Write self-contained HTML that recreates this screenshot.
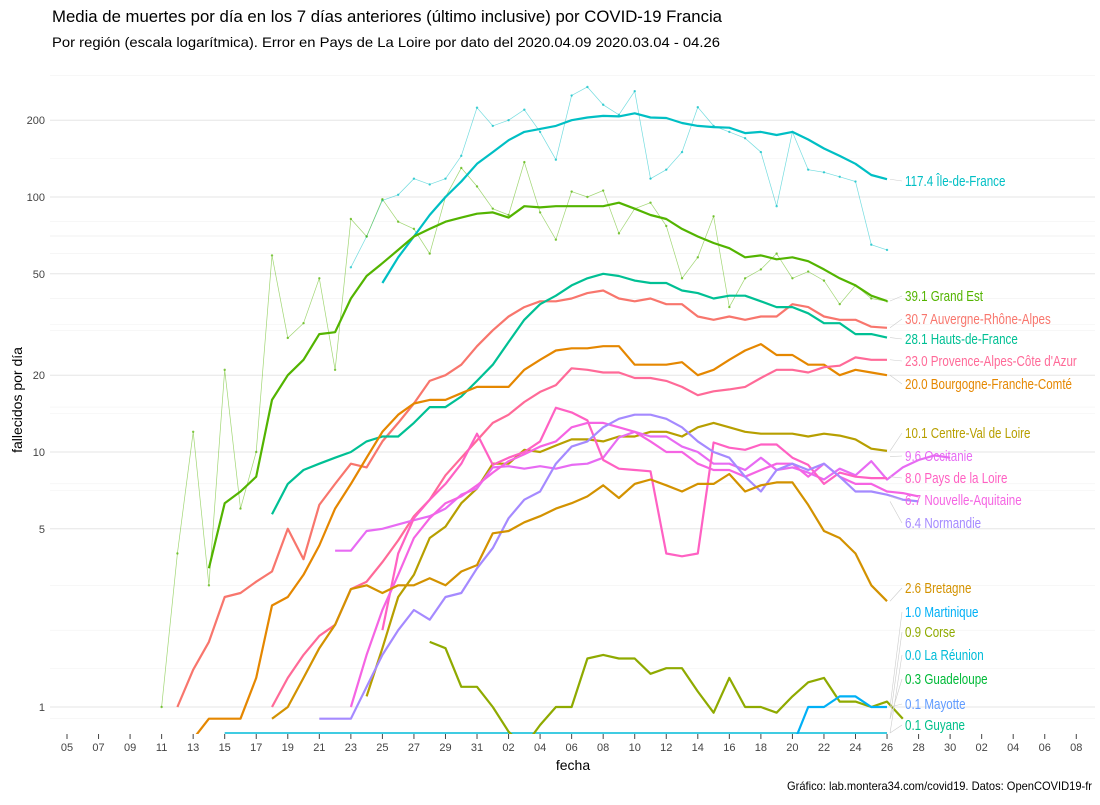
<!DOCTYPE html>
<html><head><meta charset="utf-8"><style>
body{margin:0;background:#fff;}
svg text{font-family:"Liberation Sans",sans-serif;}
</style></head><body>
<svg id="chart" width="1100" height="800" viewBox="0 0 1100 800" xmlns="http://www.w3.org/2000/svg">
<rect width="1100" height="800" fill="#fff"/>
<text x="52" y="22" font-size="17" fill="#000" textLength="670" lengthAdjust="spacingAndGlyphs">Media de muertes por día en los 7 días anteriores (último inclusive) por COVID-19 Francia</text>
<text x="52" y="47" font-size="14" fill="#000" textLength="668" lengthAdjust="spacingAndGlyphs">Por región (escala logarítmica). Error en Pays de La Loire por dato del 2020.04.09 2020.03.04 - 04.26</text>
<text x="1092" y="790" font-size="12" fill="#000" text-anchor="end" textLength="305" lengthAdjust="spacingAndGlyphs">Gráfico: lab.montera34.com/covid19. Datos: OpenCOVID19-fr</text>
<text x="0" y="0" font-size="14" fill="#000" text-anchor="middle" transform="translate(22,400) rotate(-90)">fallecidos por día</text>
<text x="573" y="770" font-size="14" fill="#000" text-anchor="middle">fecha</text>
<g id="grid"></g><g id="axes"></g>
<defs><clipPath id="clip"><rect x="50" y="60" width="1045" height="674"/></clipPath></defs>
<g id="daily" clip-path="url(#clip)"></g>
<g id="avg" clip-path="url(#clip)"></g>
<g id="labels"></g>
</svg>
<script>
const yTicks=[1,5,10,20,50,100,200];
const xTickLabels=["05","07","09","11","13","15","17","19","21","23","25","27","29","31","02","04","06","08","10","12","14","16","18","20","22","24","26","28","30","02","04","06","08"];
const idfStart=20;
const idf=[46,58,70,85,100,115,135,150,167,180,185,190,200,205,208,207,213,205,204,195,190,188,187,178,180,175,180,168,155,145,135,122,117.4];
const geStart=9;
const grandEst=[3.5,6.3,7,8,16,20,23,29,29.5,40,49,55,62,70,75,80,83,86,87,83,92,91,92,92,92,92,95,90,85,82,75,70,66,63,58,59,57,58,56,52,48,45,41,39.1];
const araStart=7;
const ara=[1,1.4,1.8,2.7,2.8,3.1,3.4,5,3.8,6.2,7.5,9,8.7,11,13,15.5,19,20,22,26,30,34,37,39,39,40,42,43,40,39,40,38,38,34,33,34,33,34,34,38,37,34,33,33,31,30.7];
const hdfStart=13;
const hdf=[5.7,7.5,8.5,9,9.5,10,11,11.5,11.5,13,15,15,16.5,19,22,27,33,38,41,45,48,50,49,47,46,46,43,42,40,41,41,39,37,37,35,32,32,29,29,28.1];
const bfcStart=8;
const bfc=[0.75,0.9,0.9,0.9,1.3,2.5,2.7,3.3,4.3,6,7.5,9.5,12,14,15.5,16,16,17,18,18,18,21,23,25,25.5,25.5,26,26,22,22,22,22.5,20,21,23,25,26.5,24,24,22,22,20,21,20.5,20];
const pacaStart=13;
const paca=[1.0,1.3,1.6,1.9,2.1,2.9,3.1,3.7,4.5,5.6,6.5,8.1,9.5,11.1,13,14,15.7,17.2,18.3,21.3,21,20.5,20.5,19.5,19.5,19,18,16.7,17.3,17.6,18,19.5,21,21,20.5,21.5,21.8,23.5,23,23];
const cvlStart=19;
const cvl=[1.1,1.7,2.7,3.3,4.6,5.1,6.3,7.2,9.0,9.0,10.2,10.0,10.6,11.2,11.2,11.0,11.5,11.5,12,12,11.5,12.5,13,12.5,12,11.8,11.8,11.8,11.5,11.8,11.6,11.2,10.3,10.1];
const occStart=17;
const occ=[4.1,4.1,4.9,5.0,5.2,5.4,5.6,6.0,6.8,7.2,8.7,8.8,8.6,8.8,8.6,8.9,9.0,9.5,11.4,12,11.5,11.5,10.5,10,9,9,8.5,9.5,8.5,8.7,8.3,7.8,8.6,8.1,9.2,7.8,8.7,9.3,9.7,9.5];
const pdlStart=20;
const pdl=[2.0,4.0,5.5,6.5,7.5,9,11.8,8.9,9.5,10,11,14.9,14.3,13.3,9.3,8.6,8.5,8.4,4.0,3.9,4.0,10.9,10.4,10.2,10.7,10.7,9.5,8.9,7.5,8.3,8.0,7.9,7.9];
const naqStart=18;
const naq=[1.0,1.6,2.4,3.3,4.6,5.5,6.3,6.7,7.4,8.3,9.2,9.8,10.5,11,12.5,13,13,12.5,12,11,10,10,9,8.5,8.5,8,8.5,9,9,8,9,8,7.5,7.5,7,6.9,6.7];
const norStart=16;
const nor=[0.9,0.9,0.9,1.2,1.6,2.0,2.4,2.2,2.7,2.8,3.5,4.2,5.5,6.5,7,9,10.5,11,12.5,13.5,14,14,13.5,12.5,11,10,9.5,8,7,8.5,9,8.5,9,8,7,7,6.8,6.5,6.4];
const breStart=13;
const bre=[0.9,1.0,1.3,1.7,2.1,2.9,3.0,2.8,3.0,3.0,3.2,3.0,3.4,3.6,4.8,4.9,5.3,5.6,6.0,6.3,6.7,7.4,6.6,7.5,7.8,7.4,7.0,7.5,7.5,8.2,7.0,7.4,7.6,7.6,6.2,4.9,4.6,4.0,3.0,2.6];
const corStart=23;
const cor=[1.8,1.7,1.2,1.2,1.0,0.8,0.7,0.85,1.0,1.0,1.55,1.6,1.55,1.55,1.35,1.42,1.42,1.15,0.95,1.3,1.0,1.0,0.95,1.1,1.25,1.3,1.05,1.05,1.0,1.05,0.9];
const marStart=46;
const mar=[0.7,1.0,1.0,1.1,1.1,1.0,1.0];
const idfDailyStart=18;
const idfDaily=[53,70,97,102,118,112,118,145,224,190,200,220,180,140,250,270,230,210,260,118,128,150,225,190,180,170,150,92,180,128,125,120,115,65,62];
const geDailyStart=6;
const geDaily=[1,4,12,3,21,6,10,59,28,32,48,21,82,70,98,80,75,60,100,130,110,90,85,137,87,68,105,100,106,72,90,95,77,48,58,84,37,48,52,60,48,51,47,38,45,40,39];
const labelTexts=["117.4 Île-de-France","39.1 Grand Est","30.7 Auvergne-Rhône-Alpes","28.1 Hauts-de-France","23.0 Provence-Alpes-Côte d'Azur","20.0 Bourgogne-Franche-Comté","10.1 Centre-Val de Loire","9.6 Occitanie","8.0 Pays de la Loire","6.7 Nouvelle-Aquitaine","6.4 Normandie","2.6 Bretagne","1.0 Martinique","0.9 Corse","0.0 La Réunion","0.3 Guadeloupe","0.1 Mayotte","0.1 Guyane"];
const labelEndValues=[117.4,39.1,30.7,28.1,23,20,10.1,9.6,8,6.7,6.4,2.6,1.0,0.9,0.78,0.9,1.0,0.78];

const labelY=[181,296,319,339,361,384,433,456,478,500,523,588,612,632,655,679,704,725];
const labelColors=["#00BFC4","#53B400","#F8766D","#00C094","#FF6A98","#E58700","#B79F00","#E76BF3","#FF61C3","#F564E3","#A58AFF","#D39200","#00B0F6","#8FAA00","#00BCD8","#00BA38","#619CFF","#00C08B"];

const NS="http://www.w3.org/2000/svg";
function xs(i){return 67+15.77*i;}
function ys(v){return 707-255*Math.log10(v);}
function mk(tag,attrs,parent){const e=document.createElementNS(NS,tag);for(const k in attrs)e.setAttribute(k,attrs[k]);parent.appendChild(e);return e;}
const grid=document.getElementById('grid'),axes=document.getElementById('axes');
const minors=[Math.sqrt(2),Math.sqrt(50),Math.sqrt(200),Math.sqrt(1000),Math.sqrt(5000),Math.sqrt(20000),0.9,2,3,60,70,80,30,40,7.5,15,300];
minors.forEach(v=>{const l=mk('line',{x1:50,x2:1095,y1:ys(v),y2:ys(v),stroke:'#f2f2f2','stroke-width':0.6},grid);

});
yTicks.forEach(v=>{const l=mk('line',{x1:50,x2:1095,y1:ys(v),y2:ys(v),stroke:'#e6e6e6','stroke-width':1},grid);


const t=mk('text',{x:45,y:ys(v)+4,'font-size':11,fill:'#444','text-anchor':'end'},axes);t.textContent=v;

});
xTickLabels.forEach((s,k)=>{const x=xs(k*2);
const tk=mk('line',{x1:x,x2:x,y1:734,y2:739,stroke:'#444','stroke-width':1},axes);


const t=mk('text',{x:x,y:751,'font-size':11,fill:'#444','text-anchor':'middle'},axes);t.textContent=s;

});
const daily=document.getElementById('daily'),avg=document.getElementById('avg');
function pts(start,arr){return arr.map((v,i)=>xs(start+i).toFixed(1)+','+ys(v).toFixed(1)).join(' ');}
function drawDaily(start,arr,col,name){const p=mk('polyline',{points:pts(start,arr),fill:'none',stroke:col,'stroke-width':0.7,opacity:0.55},daily);


arr.forEach((v,i)=>{const c=mk('circle',{cx:xs(start+i),cy:ys(v),r:1.2,fill:col,opacity:0.7},daily);

});}
function drawAvg(start,arr,col,name){const p=mk('polyline',{points:pts(start,arr),fill:'none',stroke:col,'stroke-width':2.2,'stroke-linejoin':'round'},avg);

}
drawDaily(idfDailyStart,idfDaily,'#00BFC4','idf-daily-line');
drawDaily(geDailyStart,geDaily,'#53B400','grand-est-daily-line');
const bl=mk('line',{x1:xs(10),x2:xs(52),y1:733,y2:733,stroke:'#00BCD8','stroke-width':1.5},avg);


drawAvg(idfStart,idf,'#00BFC4','idf-line');
drawAvg(geStart,grandEst,'#53B400','grand-est-line');
drawAvg(araStart,ara,'#F8766D','ara-line');
drawAvg(hdfStart,hdf,'#00C094','hdf-line');
drawAvg(bfcStart,bfc,'#E58700','bfc-line');
drawAvg(pacaStart,paca,'#FF6A98','paca-line');
drawAvg(cvlStart,cvl,'#B79F00','cvl-line');
drawAvg(occStart,occ,'#E76BF3','occitanie-line');
drawAvg(pdlStart,pdl,'#FF61C3','pays-de-la-loire-line');
drawAvg(naqStart,naq,'#F564E3','nouvelle-aquitaine-line');
drawAvg(norStart,nor,'#A58AFF','normandie-line');
drawAvg(breStart,bre,'#D39200','bretagne-line');
drawAvg(corStart,cor,'#8FAA00','corse-line');
drawAvg(marStart,mar,'#00B0F6','martinique-line');
const labels=document.getElementById('labels');
labelTexts.forEach((s,k)=>{
const c=mk('line',{x1:xs(52)+3,y1:Math.min(ys(labelEndValues[k]),733),x2:902,y2:labelY[k],stroke:'#ccc','stroke-width':0.6},labels);


const t=mk('text',{x:905,y:labelY[k]+5,'font-size':14.5,fill:labelColors[k]},labels);t.textContent=s;


const w=t.getComputedTextLength();
t.setAttribute('textLength',(w*0.8).toFixed(1));
t.setAttribute('lengthAdjust','spacingAndGlyphs');});
</script>
</body></html>
